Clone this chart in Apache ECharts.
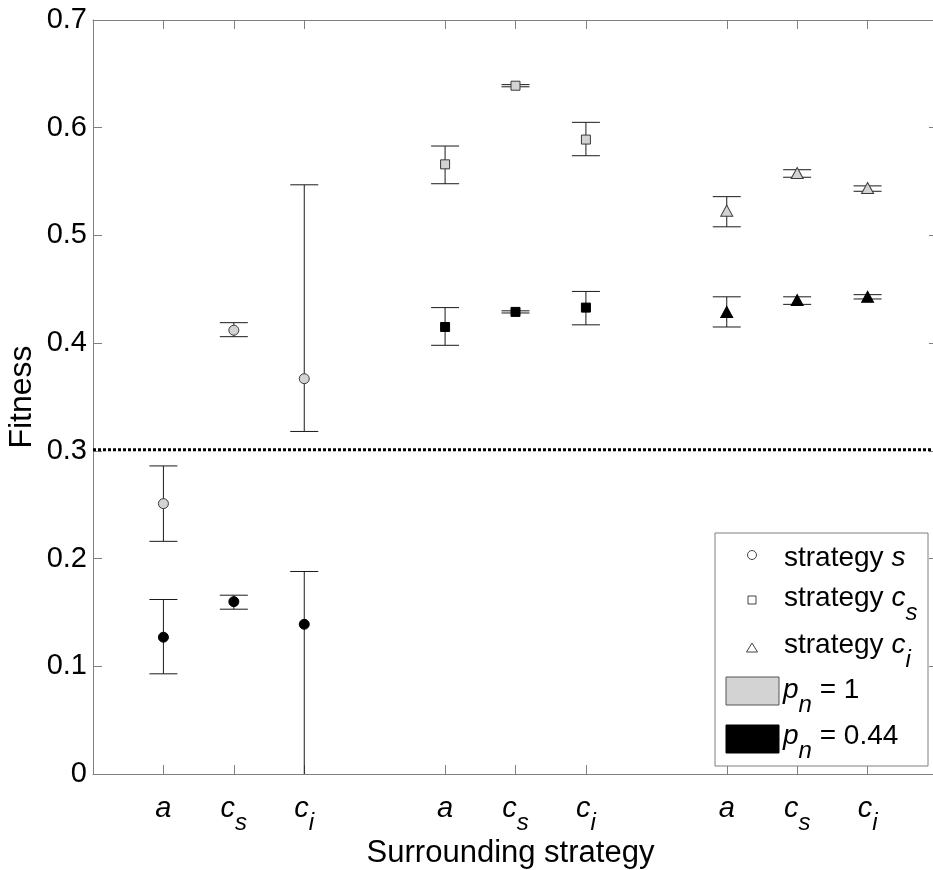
<!DOCTYPE html>
<html>
<head>
<meta charset="utf-8">
<title>Fitness by surrounding strategy</title>
<script src="https://cdn.jsdelivr.net/npm/echarts@6/dist/echarts.min.js"></script>
<style>
  html, body { margin: 0; padding: 0; background: #fff; }
  #chart { width: 933px; height: 870px; }
</style>
</head>
<body>
<div id="chart"></div>
<script>
// Slot positions on the x axis: three groups of three surrounding strategies
const slotPositions = [1, 2, 3, 5, 6, 7, 9, 10, 11];
// Tick labels: base letter and subscript
const tickBase = ['a', 'c', 'c', 'a', 'c', 'c', 'a', 'c', 'c'];
const tickSub = ['', 's', 'i', '', 's', 'i', '', 's', 'i'];

// Strategy s (circles)
const sFullMean = [0.251, 0.412, 0.367];
const sFullLow = [0.216, 0.406, 0.318];
const sFullHigh = [0.286, 0.419, 0.547];
const sPartMean = [0.127, 0.160, 0.139];
const sPartLow = [0.093, 0.153, -0.02];
const sPartHigh = [0.162, 0.166, 0.188];

// Strategy c_s (squares)
const csFullMean = [0.566, 0.639, 0.589];
const csFullLow = [0.548, 0.638, 0.574];
const csFullHigh = [0.583, 0.640, 0.605];
const csPartMean = [0.415, 0.429, 0.433];
const csPartLow = [0.398, 0.428, 0.417];
const csPartHigh = [0.433, 0.430, 0.448];

// Strategy c_i (triangles)
const ciFullMean = [0.523, 0.558, 0.544];
const ciFullLow = [0.508, 0.554, 0.541];
const ciFullHigh = [0.536, 0.561, 0.546];
const ciPartMean = [0.429, 0.440, 0.443];
const ciPartLow = [0.415, 0.436, 0.441];
const ciPartHigh = [0.443, 0.443, 0.445];

// Reference fitness level
const threshold = 0.301;

const FONT = '"Liberation Sans", Arial, Helvetica, sans-serif';
const GRAY_FILL = '#d3d3d3';
const AXIS_GRAY = '#7f7f7f';

const groupX = [slotPositions.slice(0, 3), slotPositions.slice(3, 6), slotPositions.slice(6, 9)];

function points(xs, ys) { return xs.map((x, i) => [x, ys[i]]); }
function bars(xs, lo, hi) { return xs.map((x, i) => [x, lo[i], hi[i]]); }

const CAP = 14;
function renderErrorBar(params, api) {
  const x = api.value(0);
  const top = api.coord([x, api.value(2)]);
  const bot = api.coord([x, api.value(1)]);
  const style = { stroke: '#1a1a1a', lineWidth: 1 };
  return {
    type: 'group',
    children: [
      { type: 'line', shape: { x1: top[0], y1: top[1], x2: bot[0], y2: bot[1] }, style },
      { type: 'line', shape: { x1: top[0] - CAP, y1: top[1], x2: top[0] + CAP, y2: top[1] }, style },
      { type: 'line', shape: { x1: bot[0] - CAP, y1: bot[1], x2: bot[0] + CAP, y2: bot[1] }, style }
    ]
  };
}

function errorSeries(xs, lo, hi) {
  return {
    type: 'custom', renderItem: renderErrorBar, data: bars(xs, lo, hi), clip: true,
    encode: { x: 0, y: [1, 2] }, z: 3, silent: true
  };
}

function markerSeries(xs, ys, symbol, size, fill, stroke) {
  return {
    type: 'scatter', data: points(xs, ys), symbol, symbolSize: size, z: 5, silent: true,
    itemStyle: { color: fill, borderColor: stroke, borderWidth: 1, opacity: 1 }
  };
}

const chart = echarts.init(document.getElementById('chart'), null, { renderer: 'canvas' });

const labelRich = {
  c: { fontFamily: FONT, fontSize: 29, fontStyle: 'italic', color: '#000', lineHeight: 29, verticalAlign: 'top' },
  sub: { fontFamily: FONT, fontSize: 24, fontStyle: 'italic', color: '#000', lineHeight: 24, verticalAlign: 'top', padding: [17, 0, 0, 0] }
};

const legendRich = {
  n: { fontFamily: FONT, fontSize: 28, color: '#000', lineHeight: 30, verticalAlign: 'top' },
  i: { fontFamily: FONT, fontSize: 28, fontStyle: 'italic', color: '#000', lineHeight: 30, verticalAlign: 'top' },
  sub: { fontFamily: FONT, fontSize: 24, fontStyle: 'italic', color: '#000', lineHeight: 24, verticalAlign: 'top', padding: [17, 0, 0, 0] }
};

function legendText(text, x, y) {
  return {
    type: 'text', z: 101, silent: true,
    style: { text, x, y, rich: legendRich, align: 'left', verticalAlign: 'top', fontFamily: FONT, fontSize: 28 }
  };
}

const option = {
  backgroundColor: '#fff',
  animation: false,
  grid: { left: 93, top: 20, width: 845, height: 754, outerBoundsMode: 'none', containLabel: false },
  xAxis: [
    {
      type: 'value', min: 0, max: 12, position: 'bottom',
      name: 'Surrounding strategy', nameLocation: 'middle', nameGap: 64, nameMoveOverlap: false,
      nameTextStyle: { fontFamily: FONT, fontSize: 31, color: '#000', padding: [0, 10, 0, 0] },
      axisLine: { show: true, onZero: false, lineStyle: { color: AXIS_GRAY, width: 1 } },
      axisTick: { show: true, inside: true, length: 9, customValues: slotPositions, lineStyle: { color: AXIS_GRAY } },
      axisLabel: {
        show: true, margin: 20, customValues: slotPositions, rich: labelRich,
        formatter: function (v) {
          const k = slotPositions.indexOf(v);
          if (k < 0) return '';
          return '{c|' + tickBase[k] + '}' + (tickSub[k] ? '{sub|' + tickSub[k] + '}' : '');
        }
      },
      splitLine: { show: false }
    },
    {
      type: 'value', min: 0, max: 12, position: 'top',
      axisLine: { show: true, onZero: false, lineStyle: { color: AXIS_GRAY, width: 1 } },
      axisTick: { show: true, inside: true, length: 9, customValues: slotPositions, lineStyle: { color: AXIS_GRAY } },
      axisLabel: { show: false },
      splitLine: { show: false }
    }
  ],
  yAxis: [
    {
      type: 'value', min: 0, max: 0.7, interval: 0.1, position: 'left',
      name: 'Fitness', nameLocation: 'middle', nameGap: 55, nameMoveOverlap: false,
      nameTextStyle: { fontFamily: FONT, fontSize: 32, color: '#000' },
      axisLine: { show: true, onZero: false, lineStyle: { color: AXIS_GRAY, width: 1 } },
      axisTick: { show: true, inside: true, length: 9, lineStyle: { color: AXIS_GRAY } },
      axisLabel: { fontFamily: FONT, fontSize: 29, color: '#000', margin: 6 },
      splitLine: { show: false }
    },
    {
      type: 'value', min: 0, max: 0.7, interval: 0.1, position: 'right',
      axisLine: { show: true, onZero: false, lineStyle: { color: AXIS_GRAY, width: 1 } },
      axisTick: { show: true, inside: true, length: 9, lineStyle: { color: AXIS_GRAY } },
      axisLabel: { show: false },
      splitLine: { show: false }
    }
  ],
  series: [
    {
      type: 'line', data: [[0, threshold], [12, threshold]], symbol: 'none', z: 2, silent: true,
      lineStyle: { color: '#000', width: 3, type: [3, 2] }
    },
    errorSeries(groupX[0], sFullLow, sFullHigh),
    errorSeries(groupX[0], sPartLow, sPartHigh),
    errorSeries(groupX[1], csFullLow, csFullHigh),
    errorSeries(groupX[1], csPartLow, csPartHigh),
    errorSeries(groupX[2], ciFullLow, ciFullHigh),
    errorSeries(groupX[2], ciPartLow, ciPartHigh),
    markerSeries(groupX[0], sFullMean, 'circle', 10, GRAY_FILL, '#3a3a3a'),
    markerSeries(groupX[0], sPartMean, 'circle', 10, '#000', '#000'),
    markerSeries(groupX[1], csFullMean, 'rect', 9, GRAY_FILL, '#3a3a3a'),
    markerSeries(groupX[1], csPartMean, 'rect', 9, '#000', '#000'),
    markerSeries(groupX[2], ciFullMean, 'triangle', [12, 11], GRAY_FILL, '#3a3a3a'),
    markerSeries(groupX[2], ciPartMean, 'triangle', [12, 11], '#000', '#000')
  ],
  graphic: [
    {
      type: 'rect', z: 100, silent: true,
      shape: { x: 715, y: 533, width: 213, height: 233 },
      style: { fill: '#fff', stroke: AXIS_GRAY, lineWidth: 1 }
    },
    { type: 'circle', z: 101, silent: true, shape: { cx: 752, cy: 555, r: 4.5 }, style: { fill: '#fff', stroke: '#444', lineWidth: 1 } },
    { type: 'rect', z: 101, silent: true, shape: { x: 748, y: 596, width: 8, height: 8 }, style: { fill: '#fff', stroke: '#444', lineWidth: 1 } },
    { type: 'polygon', z: 101, silent: true, shape: { points: [[752, 643], [746.5, 652], [757.5, 652]] }, style: { fill: '#fff', stroke: '#444', lineWidth: 1 } },
    { type: 'rect', z: 101, silent: true, shape: { x: 726, y: 677, width: 53, height: 28 }, style: { fill: GRAY_FILL, stroke: '#555', lineWidth: 1 } },
    { type: 'rect', z: 101, silent: true, shape: { x: 726, y: 725, width: 53, height: 28 }, style: { fill: '#000', stroke: '#000', lineWidth: 1 } },
    legendText('{n|strategy }{i|s}', 784, 544),
    legendText('{n|strategy }{i|c}{sub|s}', 784, 584),
    legendText('{n|strategy }{i|c}{sub|i}', 784, 631),
    legendText('{i|p}{sub|n}{n| = 1}', 783, 676),
    legendText('{i|p}{sub|n}{n| = 0.44}', 783, 722)
  ]
};

chart.setOption(option);
</script>
</body>
</html>
